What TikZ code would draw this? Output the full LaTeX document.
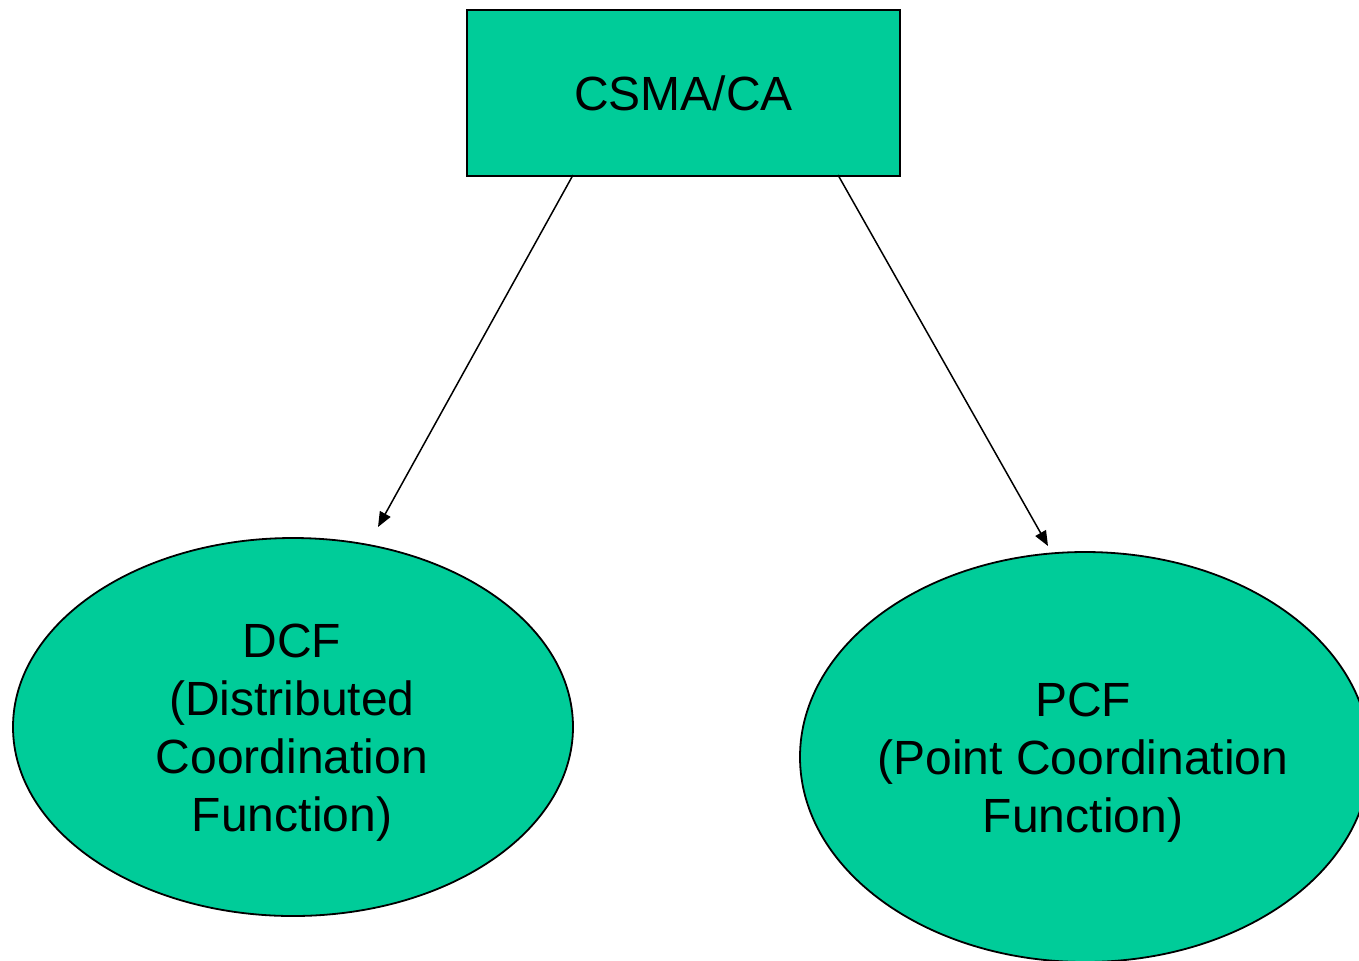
\documentclass[tikz,border=0pt]{standalone}
\usepackage{fontspec}
\setmainfont{Liberation Sans}
\usetikzlibrary{shapes.geometric,arrows.meta}
\definecolor{boxgreen}{RGB}{0,204,153}
\tikzset{
  greenbox/.style={draw=black, line width=1pt, fill=boxgreen, rectangle,
    minimum width=216.5pt, minimum height=83pt, inner sep=0pt,
    font=\fontsize{24}{29}\selectfont},
  greenoval/.style={draw=black, line width=0.9pt, fill=boxgreen, ellipse, inner sep=0pt},
  ovaltext/.style={align=center, font=\fontsize{24}{29}\selectfont, inner sep=0pt},
  link/.style={draw=black, line width=0.75pt, -{Triangle[length=7.5pt,width=6pt]}}
}
\begin{document}
\begin{tikzpicture}[x=0.5pt, y=-0.5pt]
  \useasboundingbox (0,0) rectangle (1359,960);
  \clip (0,0) rectangle (1359,960);
  \fill[white] (0,0) rectangle (1359,960);

  % top protocol box
  \node[greenbox] (csma) at (683.5,93) {CSMA/CA};

  % the two coordination functions
  \node[greenoval, minimum width=280pt, minimum height=189pt] (dcf) at (293,727) {};
  \node[ovaltext] (dcftext) at (292,733)
    {DCF\\(Distributed\hspace*{5pt}\\Coordination\hspace*{6pt}\\Function)};

  \node[greenoval, minimum width=285pt, minimum height=205pt] (pcf) at (1085,757) {};
  \node[ovaltext] (pcftext) at (1083,763) {PCF\\(Point Coordination\\Function)};

  % arrow end points just above the ovals
  \coordinate (csmaL) at (573,175);
  \coordinate (csmaR) at (838,175);
  \coordinate (dcfin) at (378,527);
  \coordinate (pcfin) at (1048,546);

  \draw[link] (csmaL) -- (dcfin);
  \draw[link] (csmaR) -- (pcfin);
\end{tikzpicture}
\end{document}
